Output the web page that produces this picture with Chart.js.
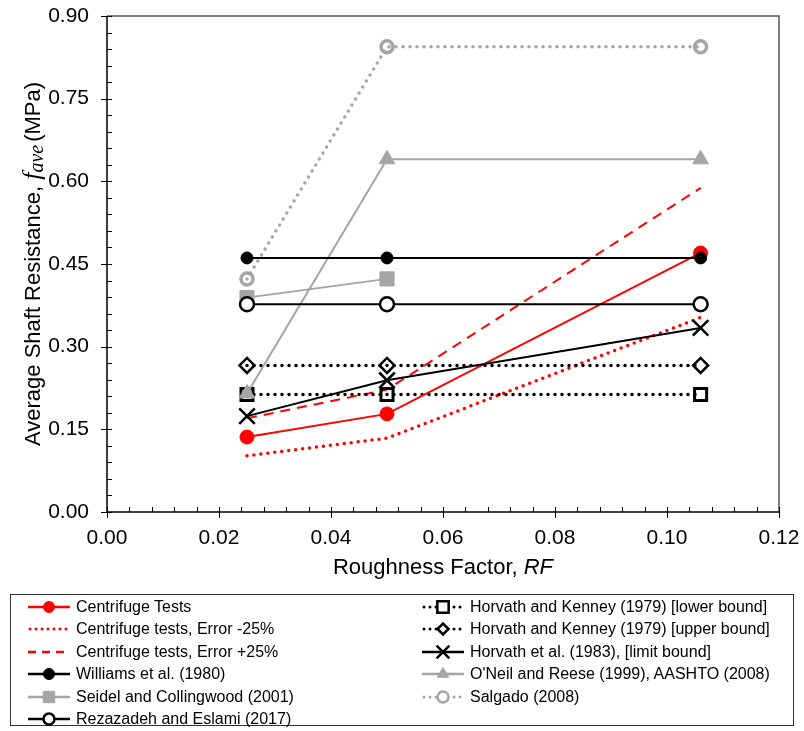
<!DOCTYPE html>
<html>
<head>
<meta charset="utf-8">
<script src="https://cdn.jsdelivr.net/npm/chart.js@4.4.0/dist/chart.umd.min.js"></script>
<style>
    body { margin: 0; background: #fff; }
    #wrap { position: relative; width: 804px; height: 731px; }
    #legend { position: absolute; left: 10px; top: 594px; width: 784px; height: 132px; border: 1px solid #333; box-sizing: border-box; }
    .item { position: absolute; height: 22px; display: flex; align-items: center; font: 16px "Liberation Sans", Arial, sans-serif; color: #000; white-space: nowrap; }
    .item canvas { margin-right: 5px; }
</style>
</head>
<body>
<div id="wrap">
    <canvas id="chart" width="804" height="731"></canvas>
    <div id="legend"></div>
</div>
<script>
const rf = [0.025, 0.05, 0.106];
const centrifuge = [0.136, 0.178, 0.470];
const errorMinus = [0.102, 0.134, 0.353];
const errorPlus = [0.170, 0.222, 0.588];
const williams = [0.461, 0.461, 0.461];
const seidel = [0.389, 0.423];
const rezazadeh = [0.377, 0.377, 0.377];
const horvathLower = [0.213, 0.213, 0.213];
const horvathUpper = [0.266, 0.266, 0.266];
const horvath1983 = [0.174, 0.239, 0.334];
const oneil = [0.215, 0.640, 0.640];
const salgado = [0.423, 0.844, 0.844];

const xTicks = [0, 0.02, 0.04, 0.06, 0.08, 0.10, 0.12];
const yTicks = [0, 0.15, 0.30, 0.45, 0.60, 0.75, 0.90];

const RED = '#ff0000';
const GRAY = '#a5a5a5';
const BLACK = '#000000';
const DOT = [0, 7];
const DASH = [10, 7];
const CLEAR = 'rgba(0,0,0,0)';

const pts = values => values.map((v, i) => ({ x: rf[i], y: v }));

const series = [
    { label: 'Centrifuge Tests', data: centrifuge, color: RED, dash: [], width: 2, point: 'circle', r: 7, fill: RED, pw: 1, order: 5, col: 0, row: 0 },
    { label: 'Centrifuge tests, Error -25%', data: errorMinus, color: RED, dash: DOT, width: 3.5, point: false, r: 0, order: 9, col: 0, row: 1 },
    { label: 'Centrifuge tests, Error +25%', data: errorPlus, color: RED, dash: DASH, width: 2, point: false, r: 0, order: 8, col: 0, row: 2 },
    { label: 'Williams et al. (1980)', data: williams, color: BLACK, dash: [], width: 2, point: 'circle', r: 6, fill: BLACK, pw: 1, order: 1, col: 0, row: 3 },
    { label: 'Seidel and Collingwood (2001)', data: seidel, color: GRAY, dash: [], width: 2, point: 'rect', r: 10, fill: GRAY, pw: 1, order: 4, col: 0, row: 4 },
    { label: 'Rezazadeh and Eslami (2017)', data: rezazadeh, color: BLACK, dash: [], width: 2, point: 'circle', r: 7, fill: '#ffffff', pw: 2.5, order: 2, col: 0, row: 5 },
    { label: 'Horvath and Kenney (1979) [lower bound]', data: horvathLower, color: BLACK, dash: DOT, width: 3.5, point: 'rect', r: 8.5, fill: CLEAR, pw: 3, order: 7, col: 1, row: 0 },
    { label: 'Horvath and Kenney (1979) [upper bound]', data: horvathUpper, color: BLACK, dash: DOT, width: 3.5, point: 'rectRot', r: 7.5, fill: CLEAR, pw: 2.5, order: 6, col: 1, row: 1 },
    { label: 'Horvath et al. (1983), [limit bound]', data: horvath1983, color: BLACK, dash: [], width: 2, point: 'crossRot', r: 11, fill: BLACK, pw: 2.5, order: 3, col: 1, row: 2 },
    { label: "O'Neil and Reese (1999), AASHTO (2008)", data: oneil, color: GRAY, dash: [], width: 2, point: 'triangle', r: 9, fill: GRAY, pw: 1, order: 2, col: 1, row: 3 },
    { label: 'Salgado (2008)', data: salgado, color: GRAY, dash: DOT, width: 3.5, point: 'circle', r: 6, fill: CLEAR, pw: 3.5, order: 6, col: 1, row: 4 },
];

const datasets = series.map(s => ({
    label: s.label,
    data: pts(s.data),
    borderColor: s.color,
    borderWidth: s.width,
    borderDash: s.dash,
    borderCapStyle: s.dash === DOT ? 'round' : 'butt',
    pointStyle: s.point,
    pointRadius: s.r,
    pointBackgroundColor: s.fill,
    pointBorderColor: s.color,
    pointBorderWidth: s.pw,
    tension: 0,
    fill: false,
    order: s.order,
}));

const PLOT = { left: 107, right: 779, top: 16, bottom: 512 };
const SANS = '"Liberation Sans", Arial, sans-serif';

const frame = {
    id: 'frame',
    afterDraw(chart) {
        const ctx = chart.ctx;
        const x = chart.scales.x;
        const y = chart.scales.y;
        const a = chart.chartArea;
        ctx.save();
        // top and right border
        ctx.strokeStyle = '#555';
        ctx.lineWidth = 1.5;
        ctx.beginPath();
        ctx.moveTo(a.left, a.top);
        ctx.lineTo(a.right, a.top);
        ctx.lineTo(a.right, a.bottom);
        ctx.stroke();
        // axes
        ctx.strokeStyle = '#000';
        ctx.beginPath();
        ctx.moveTo(a.left, a.top);
        ctx.lineTo(a.left, a.bottom);
        ctx.lineTo(a.right, a.bottom);
        ctx.stroke();
        // tick marks: major cross the axis, minor inside
        ctx.lineWidth = 1;
        ctx.beginPath();
        for (let i = 0; i <= 30; i++) {
            const px = Math.round(x.getPixelForValue(i * 0.004)) + 0.5;
            const major = i % 5 === 0;
            ctx.moveTo(px, a.bottom + (major ? 6 : 0));
            ctx.lineTo(px, a.bottom - 5);
        }
        for (let i = 0; i <= 30; i++) {
            const py = Math.round(y.getPixelForValue(i * 0.03)) + 0.5;
            const major = i % 5 === 0;
            ctx.moveTo(a.left - (major ? 6 : 0), py);
            ctx.lineTo(a.left + 5, py);
        }
        ctx.stroke();

        // x title
        ctx.fillStyle = '#000';
        ctx.textBaseline = 'alphabetic';
        ctx.textAlign = 'left';
        const f1 = '22px ' + SANS;
        const f2 = 'italic 22px ' + SANS;
        ctx.font = f1;
        const t1 = 'Roughness Factor, ';
        const w1 = ctx.measureText(t1).width;
        ctx.font = f2;
        const w2 = ctx.measureText('RF').width;
        const sx = (a.left + a.right) / 2 - (w1 + w2) / 2;
        ctx.font = f1;
        ctx.fillText(t1, sx, 574);
        ctx.font = f2;
        ctx.fillText('RF', sx + w1, 574);

        // y title, rotated, mixed fonts
        const parts = [
            { t: 'Average Shaft Resistance, ', f: f1, dy: 0 },
            { t: 'f', f: 'italic 26px "Liberation Serif", serif', dy: 0 },
            { t: 'ave', f: 'italic 20px "Liberation Serif", serif', dy: 3 },
            { t: '(MPa)', f: f1, dy: 0 },
        ];
        let total = 0;
        for (const p of parts) {
            ctx.font = p.f;
            p.w = ctx.measureText(p.t).width;
            total += p.w;
        }
        total += 3;
        ctx.translate(40, (a.top + a.bottom) / 2);
        ctx.rotate(-Math.PI / 2);
        let cx = -total / 2;
        for (const p of parts) {
            ctx.font = p.f;
            ctx.fillText(p.t, cx, p.dy);
            cx += p.w + (p.t === 'ave' ? 3 : 0);
        }
        ctx.restore();
    },
};

new Chart(document.querySelector('#chart'), {
    type: 'line',
    data: { datasets },
    options: {
        responsive: false,
        animation: false,
        layout: { padding: { left: 0, top: PLOT.top, right: 804 - PLOT.right, bottom: 731 - 590 } },
        plugins: { legend: { display: false }, tooltip: { enabled: false } },
        scales: {
            x: {
                type: 'linear',
                min: 0,
                max: 0.12,
                afterFit(scale) {
                    scale.height = 590 - PLOT.bottom;
                    scale.paddingLeft = 0;
                    scale.paddingRight = 0;
                },
                afterBuildTicks(scale) { scale.ticks = xTicks.map(v => ({ value: v })); },
                grid: { display: false, drawTicks: false },
                border: { display: false },
                ticks: {
                    padding: 14,
                    color: '#000',
                    font: { family: SANS, size: 21 },
                    callback: v => v.toFixed(2),
                },
            },
            y: {
                type: 'linear',
                min: 0,
                max: 0.9,
                afterFit(scale) {
                    scale.width = PLOT.left;
                    scale.paddingTop = 0;
                    scale.paddingBottom = 0;
                },
                afterBuildTicks(scale) { scale.ticks = yTicks.map(v => ({ value: v })); },
                grid: { display: false, drawTicks: false },
                border: { display: false },
                ticks: {
                    padding: 18,
                    color: '#000',
                    font: { family: SANS, size: 21 },
                    callback: v => v.toFixed(2),
                },
            },
        },
    },
    plugins: [frame],
});

// legend built from the same series
const legend = document.querySelector('#legend');
for (const s of series) {
    const item = document.createElement('div');
    item.className = 'item';
    item.style.left = (s.col ? 410 : 16) + 'px';
    item.style.top = (1 + s.row * 22.4) + 'px';
    const c = document.createElement('canvas');
    c.width = 44;
    c.height = 22;
    const ctx = c.getContext('2d');
    const dotted = s.dash === DOT;
    ctx.strokeStyle = s.color;
    ctx.lineWidth = dotted ? 3 : 2.5;
    ctx.lineCap = dotted ? 'round' : 'butt';
    ctx.setLineDash(dotted ? [0, 6] : s.dash === DASH ? [8, 6] : []);
    ctx.beginPath();
    ctx.moveTo(dotted ? 3 : 1, 11);
    ctx.lineTo(43, 11);
    ctx.stroke();
    ctx.setLineDash([]);
    if (s.point) {
        ctx.fillStyle = s.fill === CLEAR ? '#fff' : s.fill;
        ctx.strokeStyle = s.color;
        ctx.lineWidth = Math.min(s.pw, 2.5);
        Chart.helpers.drawPoint(ctx, {
            pointStyle: s.point,
            radius: s.point === 'rect' ? 8 : s.point === 'crossRot' ? 9 : s.point === 'triangle' ? 6.5 : 5.5,
            rotation: 0,
            borderWidth: Math.min(s.pw, 2.5),
        }, 22, 11);
    }
    item.appendChild(c);
    const span = document.createElement('span');
    span.textContent = s.label;
    item.appendChild(span);
    legend.appendChild(item);
}
</script>
</body>
</html>
